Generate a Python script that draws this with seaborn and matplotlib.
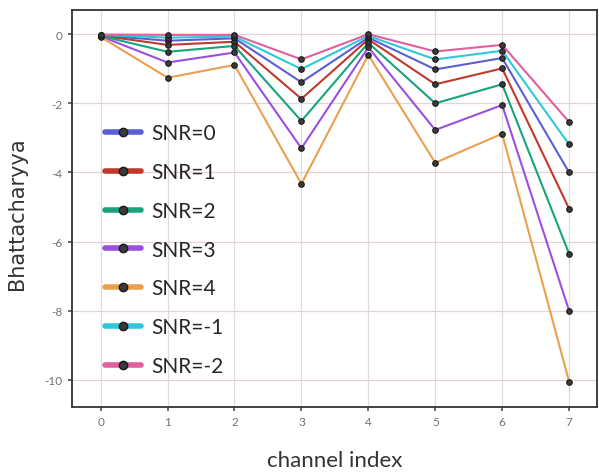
import numpy as np
import pandas as pd
import matplotlib
matplotlib.use("Agg")
import matplotlib.pyplot as plt
import seaborn as sns
from matplotlib.lines import Line2D

channels = [0, 1, 2, 3, 4, 5, 6, 7]
series_names = ["SNR=0", "SNR=1", "SNR=2", "SNR=3", "SNR=4", "SNR=-1", "SNR=-2"]
snr0 = [-0.03, -0.19, -0.12, -1.39, -0.10, -1.02, -0.69, -4.00]
snr1 = [-0.04, -0.31, -0.22, -1.87, -0.15, -1.45, -0.99, -5.05]
snr2 = [-0.05, -0.51, -0.34, -2.51, -0.25, -2.00, -1.45, -6.35]
snr3 = [-0.06, -0.82, -0.53, -3.30, -0.38, -2.77, -2.05, -8.00]
snr4 = [-0.08, -1.26, -0.89, -4.33, -0.60, -3.72, -2.88, -10.05]
snrm1 = [-0.02, -0.10, -0.07, -1.01, -0.05, -0.73, -0.48, -3.19]
snrm2 = [-0.01, -0.02, -0.02, -0.73, 0.00, -0.50, -0.31, -2.54]
colors = ["#5b5fd6", "#c0392b", "#18a37c", "#9b4fe0", "#eaa04e", "#2fc8da", "#e05f9c"]

values = [snr0, snr1, snr2, snr3, snr4, snrm1, snrm2]
df = pd.DataFrame({
    "channel": np.tile(channels, len(series_names)),
    "value": np.concatenate(values),
    "series": np.repeat(series_names, len(channels)),
})

sns.set_theme(style="white")
plt.rcParams["font.family"] = ["Lato", "DejaVu Sans"]
plt.rcParams["axes.unicode_minus"] = False

fig = plt.figure(figsize=(5.99, 4.77), dpi=100)
ax = fig.add_axes([0.120, 0.145, 0.877, 0.832])

sns.lineplot(data=df, x="channel", y="value", hue="series", hue_order=series_names,
             palette=colors, marker="o", markersize=4, linewidth=1.5, ax=ax,
             legend=False)
for line in ax.lines:
    line.set_markerfacecolor("#3a3a3a")
    line.set_markeredgecolor("#1a1a1a")
    line.set_markeredgewidth(0.8)

ax.set_xlim(-0.43, 7.42)
ax.set_ylim(-10.78, 0.7)
ax.set_xticks(channels)
ax.set_yticks([0, -2, -4, -6, -8, -10])
ax.grid(True, axis="x", color="#dddddd", linewidth=0.9)
ax.grid(True, axis="y", color="#e8d0d8", linewidth=0.9)
ax.set_axisbelow(True)
for s in ax.spines.values():
    s.set_color("#333333")
    s.set_linewidth(1.3)
ax.tick_params(axis="both", labelsize=8.5, labelcolor="#707070", length=3,
               color="#555555", left=True, bottom=True)
ax.set_xlabel("channel index", fontsize=16, color="#333333", labelpad=17)
ax.set_ylabel("Bhattacharyya", fontsize=15, color="#333333",
              fontfamily="DejaVu Sans")
ax.yaxis.set_label_coords(-0.086, 0.488)

handles = [Line2D([], [], color=c, linewidth=4, marker="o", markersize=6,
                  markerfacecolor="#3a3a3a", markeredgecolor="#1a1a1a")
           for c in colors]
ax.legend(handles, series_names, loc="upper left", bbox_to_anchor=(0.048, 0.735),
          frameon=False, fontsize=15, labelspacing=0.9, handlelength=1.7,
          handletextpad=0.5, borderaxespad=0)

fig.savefig("out.png", dpi=100)
